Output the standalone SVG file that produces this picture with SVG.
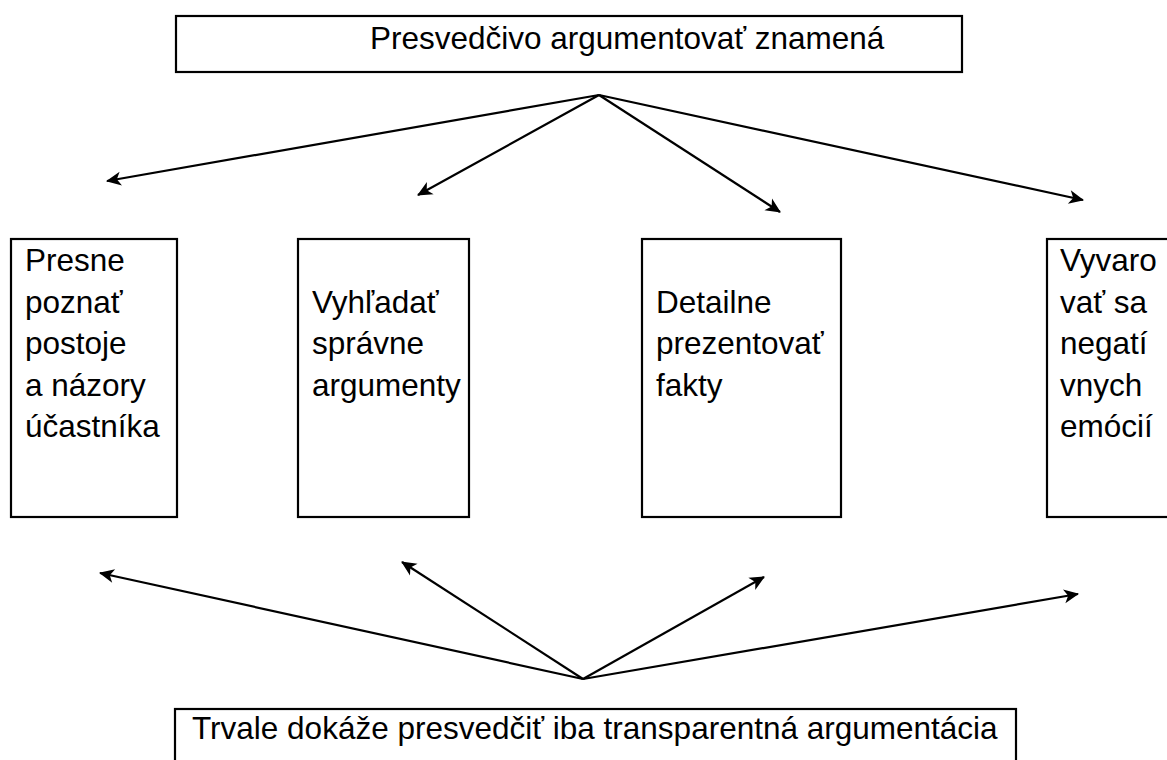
<svg xmlns="http://www.w3.org/2000/svg" width="1167" height="760" viewBox="0 0 1167 760">
<style>
.box{fill:#fff;stroke:#000;stroke-width:2.2}
.t{font-family:"Liberation Sans",Arial,sans-serif;font-size:31.5px;fill:#000}
.c{stroke:#000;stroke-width:2.2;fill:none;marker-end:url(#ah)}
</style>
<defs>
<marker id="ah" viewBox="-16 -8 18 16" refX="0" refY="0" markerWidth="18" markerHeight="16" markerUnits="userSpaceOnUse" orient="auto">
<path d="M1,0 L-14,-7 L-10,0 L-14,7 Z" fill="#000"/>
</marker>
</defs>
<rect width="1167" height="760" fill="#fff"/>
<g id="top">
<rect class="box" x="176" y="16" width="786" height="56"/>
<text class="t" x="370" y="49">Presvedčivo argumentovať znamená</text>
</g>
<g id="n1">
<rect class="box" x="11" y="239" width="166" height="278"/>
<text class="t" x="25" y="271">Presne</text>
<text class="t" x="25" y="312.5">poznať</text>
<text class="t" x="25" y="354">postoje</text>
<text class="t" x="25" y="395.5">a názory</text>
<text class="t" x="25" y="437">účastníka</text>
</g>
<g id="n2">
<rect class="box" x="298" y="239" width="171" height="278"/>
<text class="t" x="312" y="312.5">Vyhľadať</text>
<text class="t" x="312" y="354">správne</text>
<text class="t" x="312" y="395.5">argumenty</text>
</g>
<g id="n3">
<rect class="box" x="642" y="239" width="199" height="278"/>
<text class="t" x="656" y="312.5">Detailne</text>
<text class="t" x="656" y="354">prezentovať</text>
<text class="t" x="656" y="395.5">fakty</text>
</g>
<g id="n4">
<rect class="box" x="1047" y="239" width="140" height="278"/>
<text class="t" x="1060" y="271">Vyvaro</text>
<text class="t" x="1060" y="312.5">vať sa</text>
<text class="t" x="1060" y="354">negatí</text>
<text class="t" x="1060" y="395.5">vnych</text>
<text class="t" x="1060" y="437">emócií</text>
</g>
<g id="bottom">
<rect class="box" x="175" y="709" width="841" height="70"/>
<text class="t" x="192" y="739">Trvale dokáže presvedčiť iba transparentná argumentácia</text>
</g>
<g id="connectors">
<line class="c" x1="599" y1="95" x2="107" y2="181"/>
<line class="c" x1="599" y1="95" x2="418" y2="195"/>
<line class="c" x1="599" y1="95" x2="780" y2="212"/>
<line class="c" x1="599" y1="95" x2="1083" y2="200"/>
<line class="c" x1="583" y1="679" x2="100" y2="573"/>
<line class="c" x1="583" y1="679" x2="402" y2="562"/>
<line class="c" x1="583" y1="679" x2="764" y2="577"/>
<line class="c" x1="583" y1="679" x2="1078" y2="594"/>
</g>
</svg>
